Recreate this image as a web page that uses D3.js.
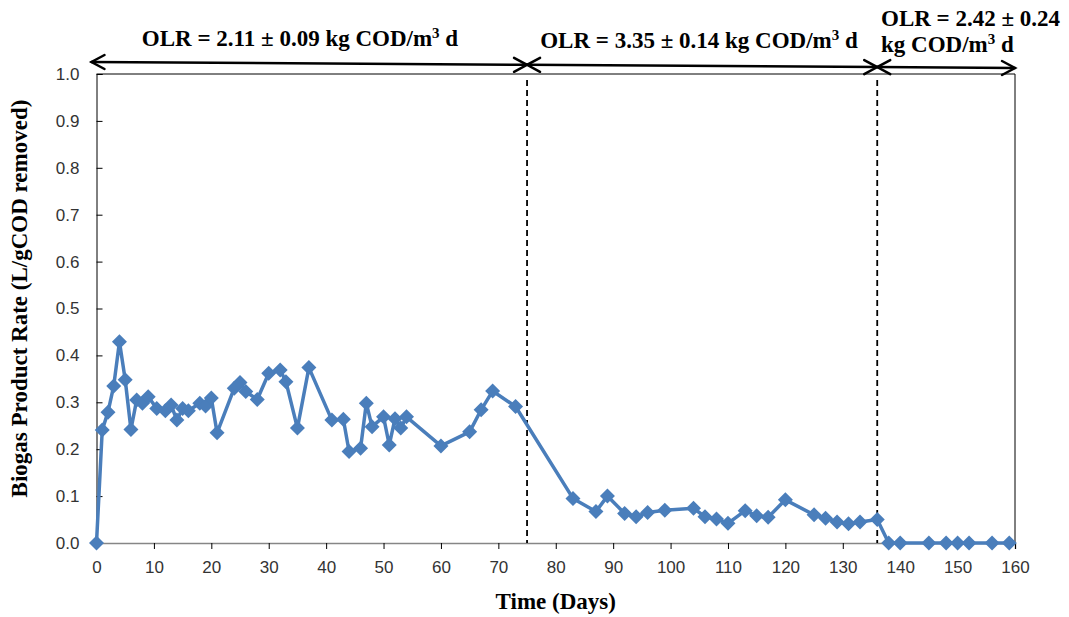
<!DOCTYPE html>
<html>
<head>
<meta charset="utf-8">
<script src="https://cdn.jsdelivr.net/npm/d3@7/dist/d3.min.js"></script>
<style>
  html, body { margin: 0; padding: 0; background: #fff; }
  svg { display: block; }
</style>
</head>
<body>
<svg id="chart" width="1069" height="617"></svg>
<script>
// Biogas production rate over operating time
const days = [0, 1, 2, 3, 4, 5, 6, 7, 8, 9, 10.5, 12, 13, 14, 15, 16, 18, 19, 20, 21,
  24, 25, 26, 28, 30, 32, 33, 35, 37, 41, 43, 44, 46, 47, 48, 50, 51, 52, 53, 54,
  60, 65, 67, 69, 73, 83, 87, 89, 92, 94, 96, 99, 104, 106, 108, 110, 113, 115, 117, 120,
  125, 127, 129, 131, 133, 136, 138, 140, 145, 148, 150, 152, 156, 159];
const rates = [0, 0.241, 0.279, 0.335, 0.429, 0.348, 0.242, 0.305, 0.298, 0.312, 0.287, 0.282, 0.294, 0.262, 0.287, 0.282, 0.298, 0.292, 0.309, 0.235,
  0.330, 0.342, 0.323, 0.306, 0.362, 0.369, 0.344, 0.245, 0.374, 0.262, 0.264, 0.195, 0.202, 0.298, 0.248, 0.269, 0.209, 0.265, 0.245, 0.269,
  0.207, 0.237, 0.284, 0.324, 0.291, 0.095, 0.067, 0.100, 0.063, 0.056, 0.065, 0.070, 0.074, 0.056, 0.051, 0.042, 0.069, 0.058, 0.055, 0.092,
  0.060, 0.053, 0.045, 0.041, 0.045, 0.050, 0, 0, 0, 0, 0, 0, 0, 0];

const xTicks = [0, 10, 20, 30, 40, 50, 60, 70, 80, 90, 100, 110, 120, 130, 140, 150, 160];
const yTicks = [0, 0.1, 0.2, 0.3, 0.4, 0.5, 0.6, 0.7, 0.8, 0.9, 1.0];

// Organic loading rate phases (day boundaries and labels)
const phaseBounds = [0, 75, 136, 160];
const phaseLabels = [
  ["OLR = 2.11 ± 0.09 kg COD/m", "3", " d"],
  ["OLR = 3.35 ± 0.14 kg COD/m", "3", " d"],
];

const svg = d3.select("#chart");
const plotLeft = 96.5, plotRight = 1015, plotTop = 74, plotBottom = 543;

const x = d3.scaleLinear().domain([0, 160]).range([plotLeft, plotRight]);
const y = d3.scaleLinear().domain([0, 1]).range([plotBottom, plotTop]);

const blue = "#4a7ebb";
const serif = "'Liberation Serif', 'Times New Roman', serif";
const sans = "'Liberation Sans', Arial, sans-serif";
const labelSize = 23;

// Plot frame (top and right)
svg.append("path")
  .attr("d", `M${plotLeft},${plotTop}H${plotRight}V${plotBottom}`)
  .attr("fill", "none").attr("stroke", "#000").attr("stroke-width", 1);

// X axis
const xAxis = svg.append("g")
  .attr("transform", `translate(0,${plotBottom})`)
  .call(d3.axisBottom(x).tickValues(xTicks).tickSize(6).tickPadding(12).tickFormat(d3.format("d")));
xAxis.select(".domain").attr("stroke", "#868686").attr("stroke-width", 1.5);
xAxis.selectAll(".tick line").attr("stroke", "#000");
xAxis.selectAll("text").attr("font-family", sans).attr("font-size", 17).attr("fill", "#333");

// Y axis with inward ticks
const yAxis = svg.append("g")
  .attr("transform", `translate(${plotLeft},0)`)
  .call(d3.axisLeft(y).tickValues(yTicks).tickSize(-6).tickPadding(17).tickFormat(d3.format(".1f")));
yAxis.select(".domain").attr("stroke", "#000").attr("stroke-width", 1);
yAxis.selectAll(".tick line").attr("stroke", "#000");
yAxis.selectAll("text").attr("font-family", sans).attr("font-size", 17).attr("fill", "#333");

// Axis titles
svg.append("text")
  .attr("x", x(80)).attr("y", 609)
  .attr("text-anchor", "middle")
  .attr("font-family", serif).attr("font-weight", "bold").attr("font-size", labelSize)
  .text("Time (Days)");

svg.append("text")
  .attr("transform", `translate(27,${(plotTop + plotBottom) / 2 - 10}) rotate(-90)`)
  .attr("text-anchor", "middle")
  .attr("font-family", serif).attr("font-weight", "bold").attr("font-size", labelSize)
  .text("Biogas Product Rate (L/gCOD removed)");

// Phase boundaries
[phaseBounds[1], phaseBounds[2]].forEach(d => {
  svg.append("line")
    .attr("x1", x(d)).attr("x2", x(d))
    .attr("y1", 80).attr("y2", plotBottom)
    .attr("stroke", "#000").attr("stroke-width", 1.8)
    .attr("stroke-dasharray", "6,4");
});

// Phase arrows above the plot
const arrowY = d => 62 + (x(d) - x(0)) / (x(160) - x(0)) * 6;
const arrowSegs = [[phaseBounds[0], phaseBounds[1]], [phaseBounds[1], phaseBounds[2]], [phaseBounds[2], phaseBounds[3]]];
const arrows = svg.append("g").attr("stroke", "#000").attr("fill", "none")
  .attr("stroke-width", 2.5).attr("stroke-linecap", "round");
arrowSegs.forEach(([a, b], i) => {
  const xa = i === 0 ? x(a) - 5 : x(a);
  const xb = x(b);
  const ya = arrowY(a), yb = arrowY(b);
  arrows.append("line").attr("x1", xa).attr("y1", ya).attr("x2", xb).attr("y2", yb);
  // head at start (pointing left)
  arrows.append("path").attr("d", `M${xa + 13},${ya - 7}L${xa},${ya}L${xa + 13},${ya + 7}`);
  // head at end (pointing right)
  arrows.append("path").attr("d", `M${xb - 13},${yb - 7}L${xb},${yb}L${xb - 13},${yb + 7}`);
});

// Phase labels
const labelPos = [[300, 46], [699, 48]];
phaseLabels.forEach((parts, i) => {
  const t = svg.append("text")
    .attr("x", labelPos[i][0]).attr("y", labelPos[i][1])
    .attr("text-anchor", "middle")
    .attr("font-family", serif).attr("font-weight", "bold").attr("font-size", labelSize);
  t.append("tspan").text(parts[0]);
  t.append("tspan").attr("dy", -8).attr("font-size", 15).text(parts[1]);
  t.append("tspan").attr("dy", 8).text(parts[2]);
});
const t3 = svg.append("text")
  .attr("font-family", serif).attr("font-weight", "bold").attr("font-size", labelSize);
t3.append("tspan").attr("x", 881).attr("y", 26).text("OLR = 2.42 ± 0.24");
t3.append("tspan").attr("x", 881).attr("y", 52).text("kg COD/m");
t3.append("tspan").attr("dy", -8).attr("font-size", 15).text("3");
t3.append("tspan").attr("dy", 8).text(" d");

// Series line and diamond markers
const pts = days.map((d, i) => [d, rates[i]]);
svg.append("path")
  .datum(pts)
  .attr("fill", "none").attr("stroke", blue).attr("stroke-width", 3.5)
  .attr("stroke-linejoin", "round")
  .attr("d", d3.line().x(p => x(p[0])).y(p => y(p[1])));

const r = 7.5;
svg.append("g").selectAll("path")
  .data(pts).join("path")
  .attr("transform", p => `translate(${x(p[0])},${y(p[1])})`)
  .attr("d", `M0,${-r}L${r},0L0,${r}L${-r},0Z`)
  .attr("fill", blue);
</script>
</body>
</html>
